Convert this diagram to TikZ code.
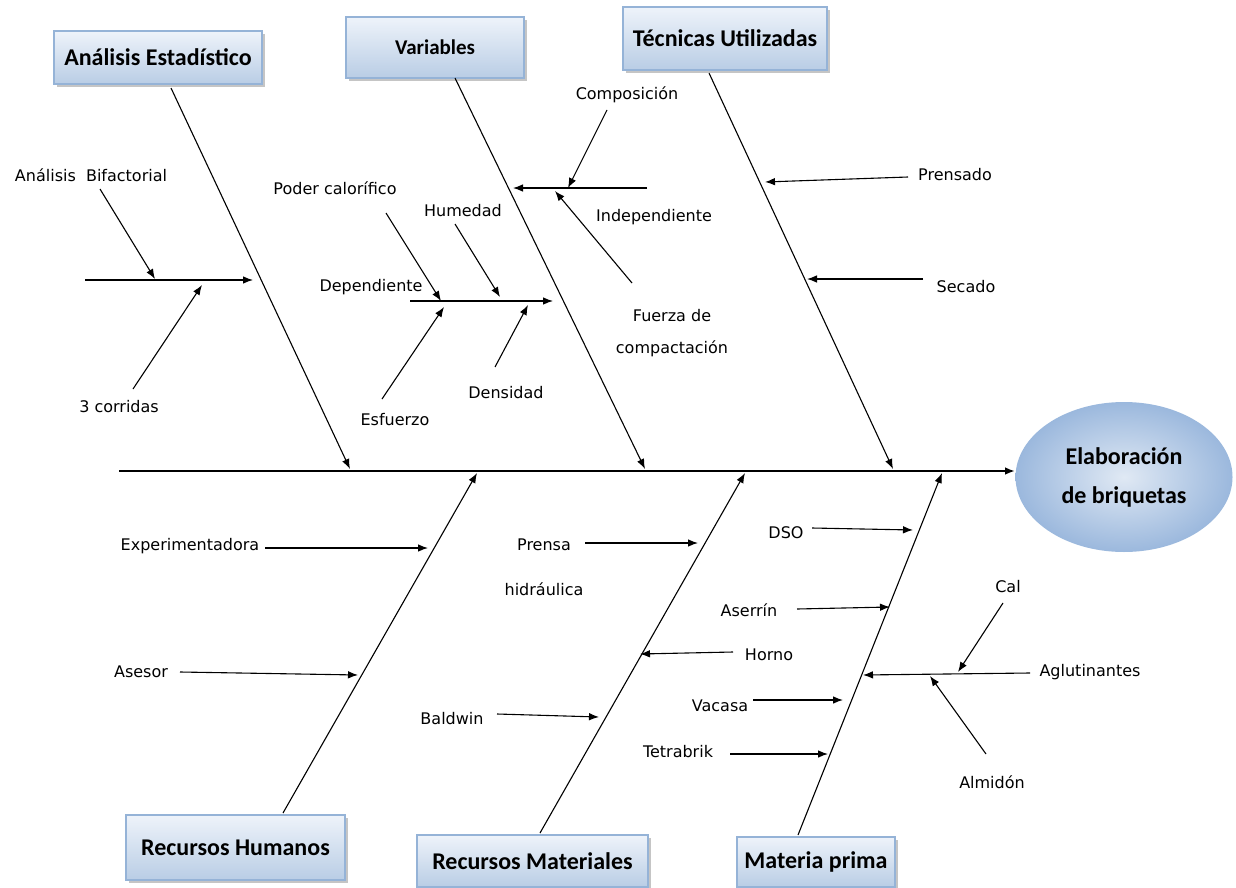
\documentclass[tikz,border=0pt]{standalone}
\usepackage{fontspec}
\setmainfont{DejaVu Sans}
\newfontfamily\catfont{Carlito}
\usetikzlibrary{arrows.meta,shadows,shapes.geometric}
\definecolor{boxtop}{HTML}{EEF3FA}
\definecolor{boxbot}{HTML}{B9CDE5}
\definecolor{boxline}{HTML}{95B3D7}
\definecolor{ovalin}{HTML}{E0E9F4}
\definecolor{ovalout}{HTML}{9BB8DD}
\tikzset{
  cat/.style={draw=boxline, line width=0.6pt, top color=boxtop, bottom color=boxbot,
    font=\catfont\bfseries\fontsize{12}{14}\selectfont, inner sep=0pt,
    drop shadow={shadow xshift=1.5pt, shadow yshift=-1.5pt, fill=black!45}},
  lbl/.style={font=\fontsize{8}{9.6}\selectfont, inner sep=0pt},
  arr/.style={-{Latex[length=5pt,width=3.8pt]}, line width=0.55pt},
}
\begin{document}
\begin{tikzpicture}[x=0.5pt,y=-0.5pt]
\useasboundingbox (0,0) rectangle (1236,888);
% categories
\node[cat, minimum width=104pt, minimum height=26.5pt] (ae) at (158,57.5) {Análisis Estadístico};
\node[cat, minimum width=89pt, minimum height=30.5pt, font=\catfont\bfseries\fontsize{10.5}{12}\selectfont] (va) at (435,47.5) {Variables};
\node[cat, minimum width=102pt, minimum height=31.5pt] (tu) at (725,38.5) {Técnicas Utilizadas};
\node[cat, minimum width=109.5pt, minimum height=32.5pt] (rh) at (235.5,847.5) {Recursos Humanos};
\node[cat, minimum width=115.5pt, minimum height=26pt] (rm) at (532.5,861) {Recursos Materiales};
\node[cat, minimum width=79pt, minimum height=25pt] (mp) at (816,862) {Materia prima};
% effect
\node[ellipse, minimum width=108.5pt, minimum height=75pt, inner sep=0pt,
  shading=radial, inner color=ovalin, outer color=ovalout, align=center,
  font=\catfont\bfseries\fontsize{12}{19.5}\selectfont] (goal) at (1124,477)
  {Elaboración\\de briquetas};
% spine
\coordinate (tail) at (119,471);
\draw[arr, line width=1pt] (tail) -- (tail -| goal.west);
% bones
\coordinate (aeS) at (171,88);   \coordinate (aeE) at (350,469);
\coordinate (vaS) at (455,78);   \coordinate (vaE) at (645,469);
\coordinate (tuS) at (709,73);   \coordinate (tuE) at (893,469);
\coordinate (rhS) at (283,813);  \coordinate (rhE) at (477,473);
\coordinate (rmS) at (540,833);  \coordinate (rmE) at (745,473);
\coordinate (mpS) at (798,835);  \coordinate (mpE) at (942,473);
\foreach \s/\t in {aeS/aeE, vaS/vaE, tuS/tuE, rhS/rhE, rmS/rmE, mpS/mpE}
  \draw[arr] (\s) -- (\t);
% causes
\foreach \n/\x/\y/\txt in {bif/91/175/Análisis~ Bifactorial, cor/119/407/3 corridas,
    pod/335/188/Poder calorífico, hum/463/211/Humedad, dep/371/287/Dependiente,
    esf/395/420/Esfuerzo, den/506/393/Densidad, com/627/95/Composición,
    ind/654/217/Independiente, pren/955/175/Prensado, sec/966/287/Secado,
    exp/190/546/Experimentadora, ase/141/672/Asesor, hor/769/655/Horno,
    bal/452/719/Baldwin, dso/786/533/DSO, asr/749/610/Aserrín, vac/720/706/Vacasa,
    tet/678/752/Tetrabrik, agl/1090/672/Aglutinantes, cal/1008/587/Cal,
    alm/992/782/Almidón}
  \node[lbl] (\n) at (\x,\y) {\txt};
\node[lbl, align=center] (fue) at (672,333) {Fuerza de\\[6.4pt]compactación};
\node[lbl, align=center] (prh) at (544,567) {Prensa\\[13pt]hidráulica};
% cause arrows
\foreach \n/\xa/\ya/\xb/\yb in {bfM/85/280/253/280, bif/100/189/155/279, cor/133/389/202/285,
    depM/410/301/553/301, pod/386/213/441/301, hum/455/224/500/297,
    esf/382/399/444/307, den/495/367/528/305,
    indM/647/188/513/188, com/607/110/568/188, fue/632/283/555/191,
    pren/908/177/765/182, sec/923/279/807/279,
    exp/265/548/428/548, ase/180/672/358/675,
    prh/585/543/698/543, hor/733/652/640/654, bal/497/714/599/717,
    dso/812/528/913/530, asr/797/609/890/607, vac/753/700/843/700,
    tet/730/754/828/754, agl/1030/673/863/675, cal/1003/603/958/672,
    alm/986/754/930/676} {
  \coordinate (\n-t) at (\xa,\ya);
  \coordinate (\n-h) at (\xb,\yb);
  \draw[arr] (\n-t) -- (\n-h);
}
\end{tikzpicture}
\end{document}
